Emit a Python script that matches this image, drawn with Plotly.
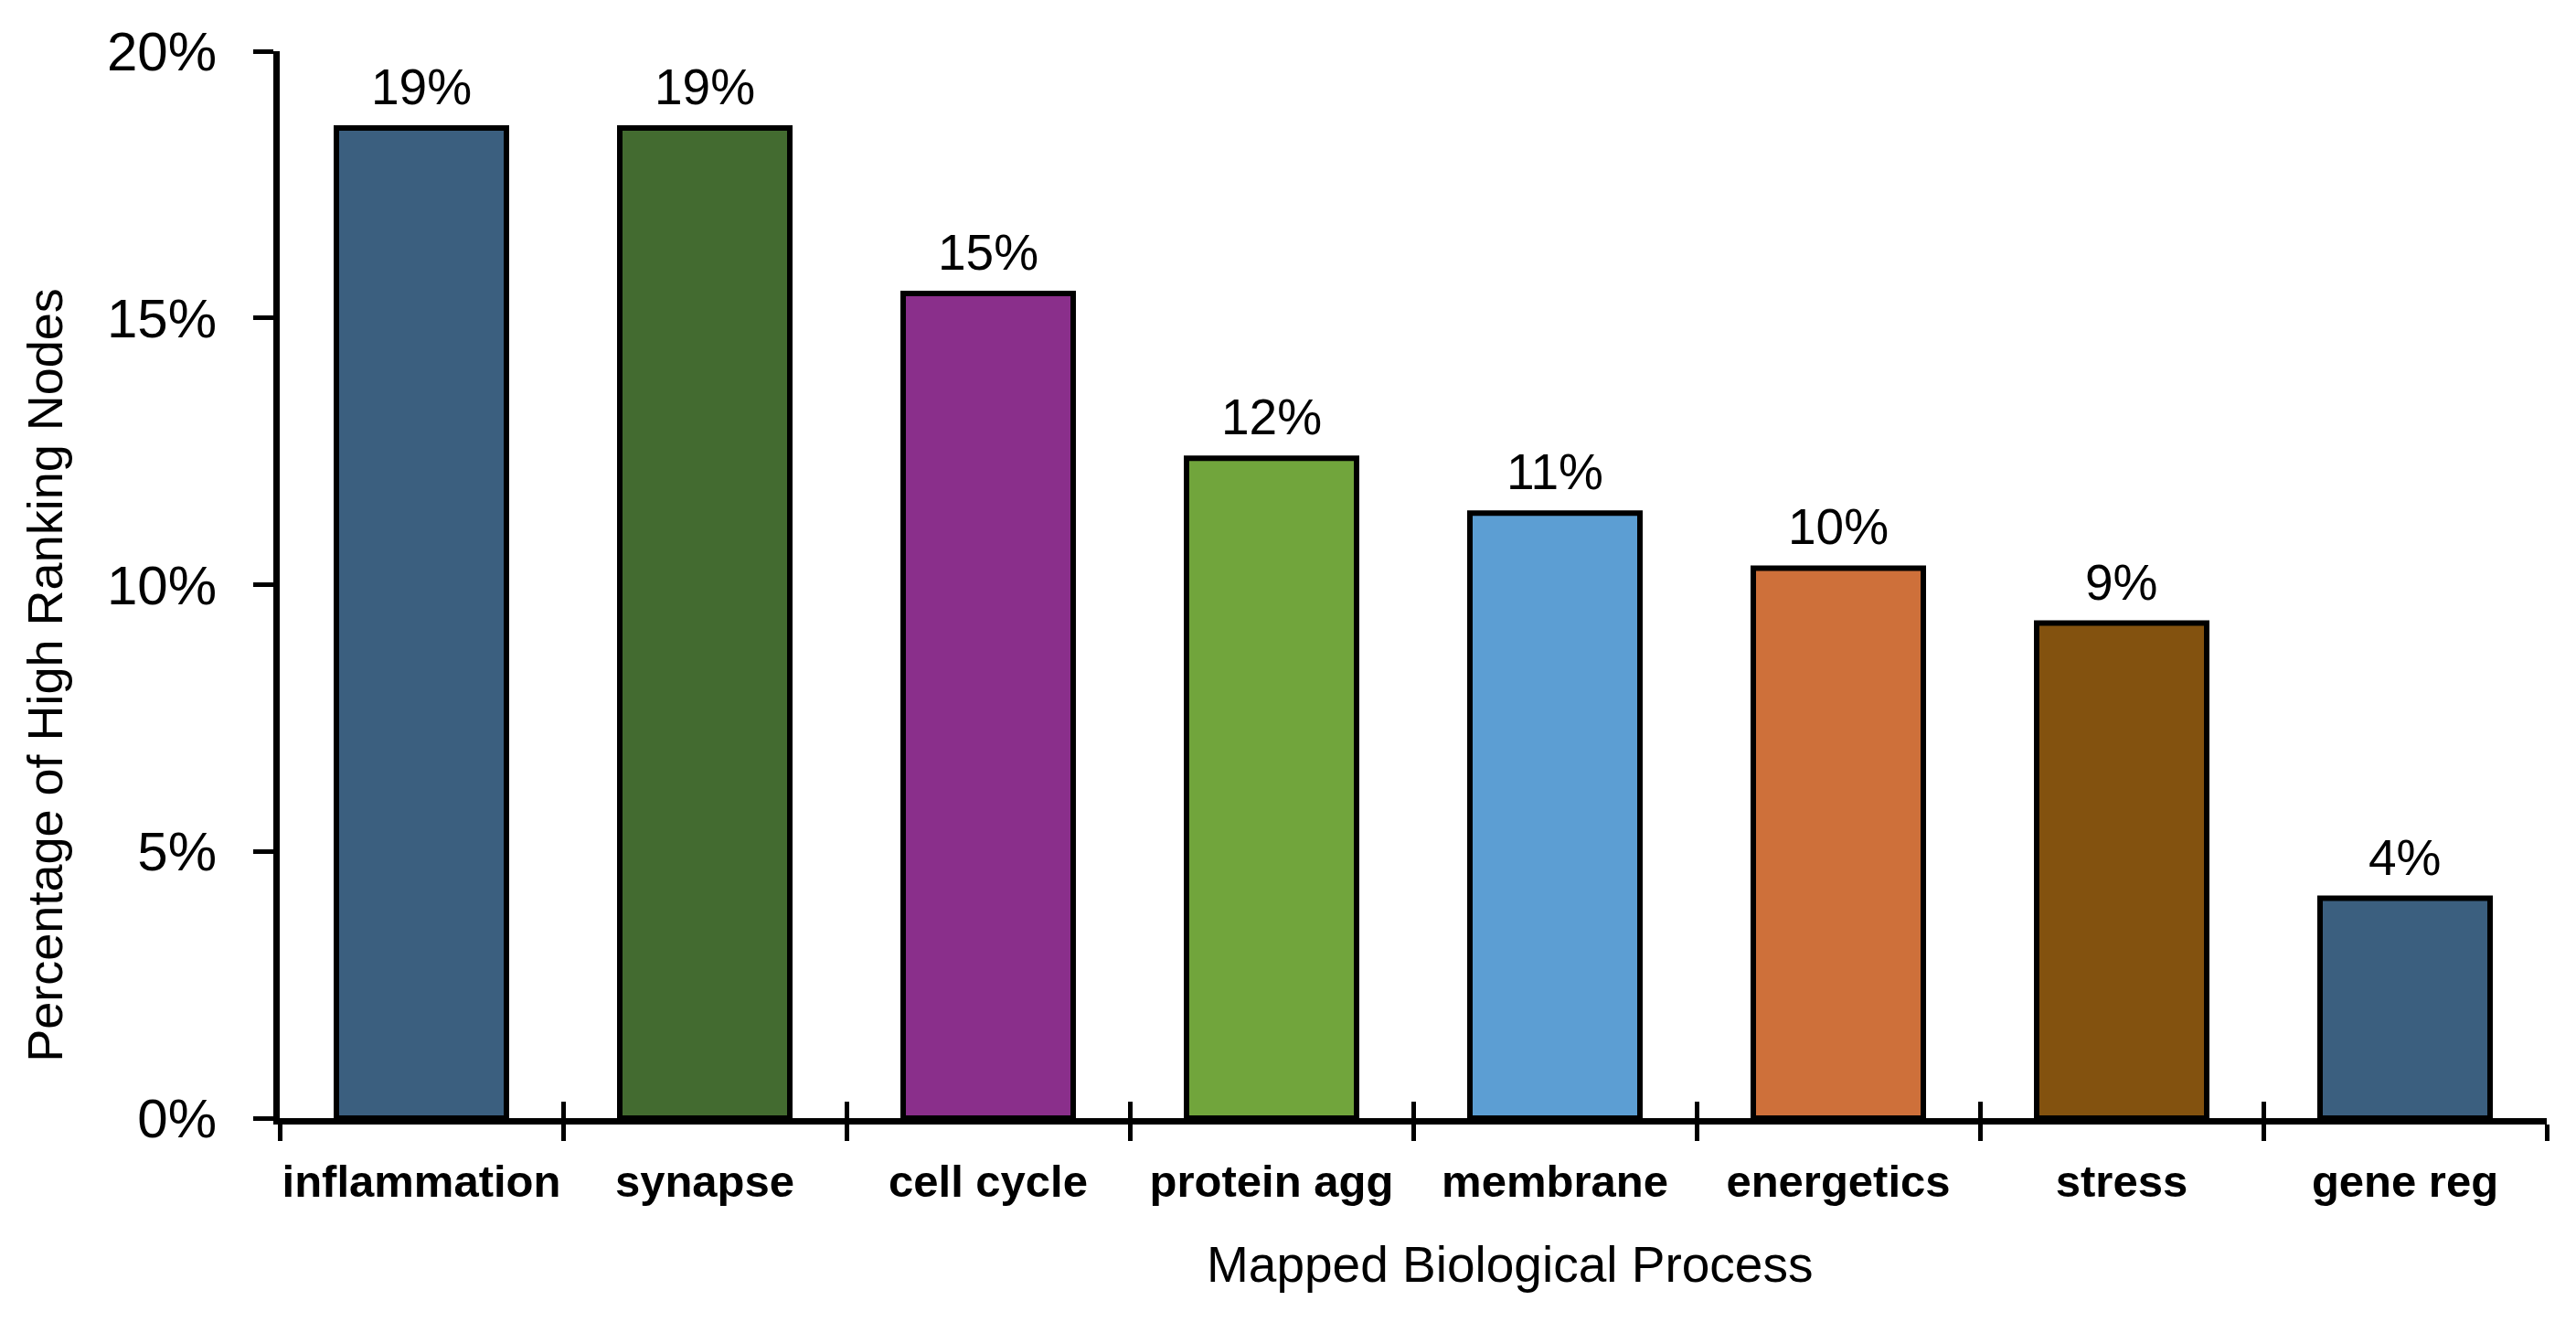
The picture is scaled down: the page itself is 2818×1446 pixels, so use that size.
import plotly.graph_objects as go

categories = ["inflammation", "synapse", "cell cycle", "protein agg",
              "membrane", "energetics", "stress", "gene reg"]
values = [0.1856, 0.1856, 0.1546, 0.1237, 0.1134, 0.1031, 0.0928, 0.0412]
colors = ["#3B5F7F", "#436B30", "#8A2F8B", "#71A53C",
          "#5C9ED3", "#CE703A", "#83520F", "#3B5F7F"]
y_ticks = [0, 0.05, 0.10, 0.15, 0.20]
x_title = "Mapped Biological Process"
y_title = "Percentage of High Ranking Nodes"

fig = go.Figure()
fig.add_trace(go.Bar(
    x=categories, y=values,
    marker=dict(color=colors, line=dict(color="black", width=6)),
    showlegend=False, hoverinfo="skip",
))
# empty helper trace so the overlay axis (inner half of the crossing ticks) is drawn
fig.add_trace(go.Scatter(x=[], y=[], xaxis="x2", yaxis="y",
                         showlegend=False, hoverinfo="skip"))

for c, v in zip(categories, values):
    fig.add_annotation(x=c, y=v, text=f"{v:.0%}", showarrow=False,
                       yanchor="bottom", yshift=12,
                       font=dict(family="Liberation Sans", size=55, color="black"))

# axis titles (placed off-centre as in the reference)
fig.add_annotation(text=x_title, xref="paper", yref="paper", x=0.5425, y=0,
                   xanchor="center", yanchor="middle", yshift=-160, showarrow=False,
                   font=dict(family="Liberation Sans", size=55, color="black"))
fig.add_annotation(text=y_title, xref="paper", yref="paper", x=0, y=0.415,
                   xanchor="center", yanchor="middle", xshift=-257, textangle=-90,
                   showarrow=False,
                   font=dict(family="Liberation Sans", size=54, color="black"))

n = len(categories)
fig.update_layout(
    width=2818, height=1446,
    margin=dict(l=298, r=40, t=48, b=231, autoexpand=False),
    paper_bgcolor="white", plot_bgcolor="white",
    bargap=0.4,
    xaxis=dict(
        type="category", range=[-0.5, n - 0.5], automargin=False,
        showline=True, linecolor="black", linewidth=7,
        ticks="outside", tickson="boundaries", ticklen=18, tickwidth=5, tickcolor="black",
        showgrid=False, zeroline=False, tickangle=0,
        tickfont=dict(family="Liberation Sans", size=49, color="black", weight="bold"),
        ticklabelstandoff=20,
    ),
    xaxis2=dict(
        overlaying="x", anchor="y", range=[-0.5, n - 0.5], automargin=False,
        tickmode="array", tickvals=[i - 0.5 for i in range(n + 1)],
        ticks="inside", ticklen=18, tickwidth=5, tickcolor="black",
        showticklabels=False, showline=False, showgrid=False, zeroline=False,
    ),
    yaxis=dict(
        range=[0, 0.20], tickmode="array", tickvals=y_ticks, tickformat=".0%",
        automargin=False,
        showline=True, linecolor="black", linewidth=7,
        ticks="outside", ticklen=22, tickwidth=5, tickcolor="black",
        showgrid=False, zeroline=False,
        tickfont=dict(family="Liberation Sans", size=60, color="black"),
        ticklabelstandoff=28,
    ),
)

fig.write_html("out.html")
